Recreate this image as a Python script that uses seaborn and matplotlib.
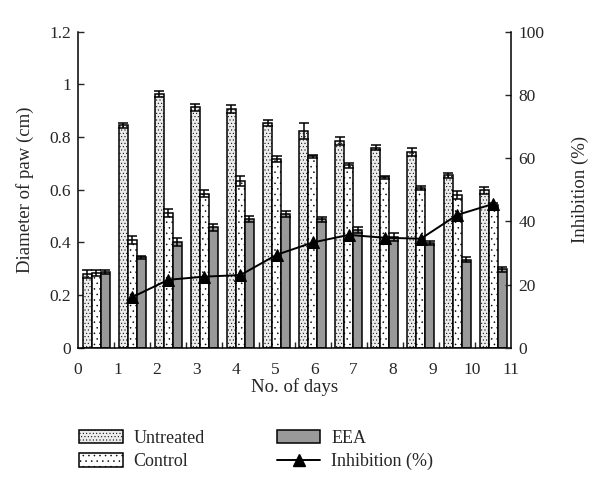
import numpy as np
import pandas as pd
import seaborn as sns
import matplotlib.pyplot as plt
from matplotlib.patches import Patch
from matplotlib.lines import Line2D

# values (day groups 0..11)
days = list(range(12))
groups = ["Untreated", "Control", "EEA"]

untreated = [0.280, 0.845, 0.962, 0.912, 0.905, 0.852, 0.823, 0.785, 0.759, 0.744, 0.655, 0.597]
untreated_err = [0.015, 0.010, 0.012, 0.012, 0.015, 0.012, 0.030, 0.015, 0.010, 0.015, 0.010, 0.015]
control = [0.283, 0.410, 0.511, 0.585, 0.633, 0.717, 0.727, 0.692, 0.647, 0.606, 0.580, 0.543]
control_err = [0.012, 0.015, 0.015, 0.012, 0.018, 0.010, 0.005, 0.008, 0.005, 0.008, 0.015, 0.005]
eea = [0.287, 0.343, 0.400, 0.457, 0.489, 0.507, 0.487, 0.447, 0.420, 0.398, 0.335, 0.298]
eea_err = [0.008, 0.005, 0.015, 0.012, 0.010, 0.012, 0.010, 0.010, 0.015, 0.008, 0.010, 0.010]

inhibition_days = list(range(1, 12))
inhibition = [16.0, 21.5, 22.5, 23.0, 29.4, 33.3, 35.7, 34.8, 34.5, 42.0, 45.5]

day_ticks = list(range(12))
left_ticks = [0, 0.2, 0.4, 0.6, 0.8, 1.0, 1.2]
left_labels = ["0", "0.2", "0.4", "0.6", "0.8", "1", "1.2"]
right_ticks = [0, 20, 40, 60, 80, 100]

colors = ["#ececec", "#ffffff", "#999999"]
hatches = [".....", "...", None]

sns.set_theme(style="white")
plt.rcParams['font.family'] = ['Liberation Serif', 'DejaVu Serif']
plt.rcParams['hatch.linewidth'] = 0.35

df = pd.DataFrame({
    "day": days * 3,
    "group": np.repeat(groups, len(days)),
    "value": untreated + control + eea,
})
errs = [untreated_err, control_err, eea_err]

fig = plt.figure(figsize=(6, 4.94), dpi=100)
ax = fig.add_axes([0.13, 0.296, 0.722, 0.640])

sns.barplot(data=df, x="day", y="value", hue="group", hue_order=groups,
            palette=colors, width=0.75, edgecolor="black", linewidth=1.1,
            errorbar=None, legend=False, ax=ax)

for cont, e, h in zip(ax.containers, errs, hatches):
    xs = [b.get_x() + b.get_width() / 2 for b in cont]
    ys = [b.get_height() for b in cont]
    if h:
        for b in cont:
            b.set_hatch(h)
    ax.errorbar(xs, ys, yerr=e, fmt="none", ecolor="black",
                elinewidth=1.1, capsize=3.3, capthick=1.1, zorder=3)

ax.set_xlim(-0.5, 11.5)
ax.set_ylim(0, 1.2)
ax.set_yticks(left_ticks, left_labels)
ax.set_xticks([])
ax.set_xticks([d + 0.5 for d in days[:-1]], minor=True)
ax.tick_params(axis="x", which="minor", direction="in", length=4, width=1, bottom=True)
ax.tick_params(axis="y", direction="in", length=4, width=1, left=True, labelsize=12.5, pad=5)
ax.set_xlabel("")
ax.set_ylabel("Diameter of paw (cm)", fontsize=13.5, labelpad=11)
for s in ["left", "bottom"]:
    ax.spines[s].set_color("black")
    ax.spines[s].set_linewidth(1.1)
ax.spines["top"].set_visible(False)
ax.spines["right"].set_visible(False)

ax2 = ax.twinx()
sns.lineplot(x=inhibition_days, y=inhibition, ax=ax2, color="black",
             marker="^", markersize=8, markeredgecolor="black", linewidth=1.4)
ax2.set_ylim(0, 100)
ax2.set_yticks(right_ticks)
ax2.tick_params(axis="y", direction="in", length=4, width=1, right=True, labelsize=12.5, pad=5)
ax2.set_ylabel("Inhibition (%)", fontsize=13.5, labelpad=20)
ax2.spines["right"].set_color("black")
ax2.spines["right"].set_linewidth(1.1)
for s in ["top", "left", "bottom"]:
    ax2.spines[s].set_visible(False)

ax3 = ax.twiny()
ax3.set_xlim(0, 11)
ax3.set_xticks(day_ticks)
ax3.xaxis.set_ticks_position("bottom")
ax3.xaxis.set_label_position("bottom")
ax3.tick_params(axis="x", length=0, labelsize=12.5, pad=10)
ax3.set_xlabel("No. of days", fontsize=13.5, labelpad=0)
for s in ax3.spines.values():
    s.set_visible(False)

handles = [
    Patch(facecolor=colors[0], hatch=hatches[0], edgecolor="black", linewidth=1.1),
    Patch(facecolor=colors[1], hatch=hatches[1], edgecolor="black", linewidth=1.1),
    Patch(facecolor=colors[2], edgecolor="black", linewidth=1.1),
    Line2D([0], [0], color="black", marker="^", markersize=8, linewidth=1.4),
]
labels = ["Untreated", "Control", "EEA", "Inhibition (%)"]
fig.legend(handles, labels, ncol=2, loc="center", bbox_to_anchor=(0.427, 0.089),
           frameon=False, fontsize=13, handlelength=2.4, handleheight=0.8,
           columnspacing=4.0, labelspacing=0.35, handletextpad=0.6)

fig.savefig("out.png", dpi=100)
